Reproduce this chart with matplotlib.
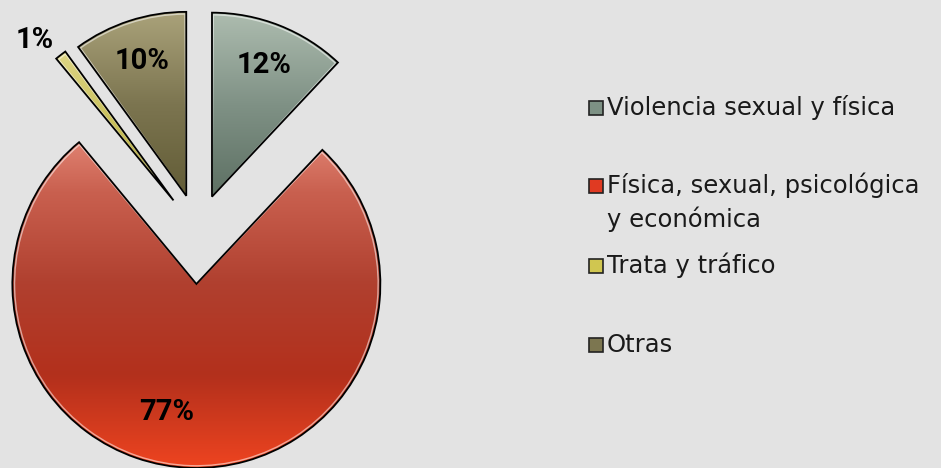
import numpy as np
import matplotlib
matplotlib.use("Agg")
import matplotlib.pyplot as plt
from matplotlib.colors import LinearSegmentedColormap
from matplotlib.patches import Rectangle, Wedge

categories = ["Violencia sexual y física",
              "Física, sexual, psicológica\ny económica",
              "Trata y tráfico",
              "Otras"]
values = [12, 77, 1, 10]
labels_pct = ["12%", "77%", "1%", "10%"]

# gradient colours (top -> bottom) per slice
grads = [
    ["#adbcaf", "#7f9185", "#5d7063"],
    ["#f29c8c", "#c9604f", "#b0402f", "#b3301c", "#ee4420"],
    ["#ddd585", "#c9c05a", "#b2a840"],
    ["#aaa27a", "#7c7550", "#625c36"],
]
legend_colors = ["#7d9184", "#e03a22", "#d0c650", "#7c7650"]

W, H = 941, 468
fig = plt.figure(figsize=(W / 100, H / 100), dpi=100)
fig.patch.set_facecolor("#e3e3e3")
ax = fig.add_axes([0, 0, 1, 1])
ax.set_facecolor("#e3e3e3")

R = 184
center = (198, 236)
explode = [38, 52, 40, 38]

wedges, texts = ax.pie(values, startangle=90, counterclock=False,
                       radius=R, center=center, explode=explode,
                       wedgeprops=dict(edgecolor="black", linewidth=1.3),
                       labels=None)

for w, cols in zip(wedges, grads):
    bb = w.get_path().get_extents()
    cmap = LinearSegmentedColormap.from_list("g", cols)
    grad = np.linspace(0, 1, 256).reshape(-1, 1)
    if len(cols) == 5:
        cx, cy = w.center
        ext = (cx - R, cx + R, cy - R, cy + R)
    else:
        ext = (bb.x0, bb.x1, bb.y0, bb.y1)
    im = ax.imshow(grad, cmap=cmap, extent=ext, origin="upper",
                   aspect="auto", zorder=1, interpolation="bilinear")
    im.set_clip_path(w)
    w.set_facecolor("none")
    w.set_zorder(3)
    inner = Wedge(w.center, w.r - 2.2, w.theta1 + 0.4, w.theta2 - 0.4,
                  facecolor="none", edgecolor="white", linewidth=1.0,
                  alpha=0.55, zorder=2)
    inner.set_clip_path(w)
    ax.add_patch(inner)

# percentage labels
pfont = dict(family="Roboto", fontweight="bold", fontsize=21, color="black",
             ha="center", va="center", zorder=5)
for i, (w, lab) in enumerate(zip(wedges, labels_pct)):
    mid = np.deg2rad((w.theta1 + w.theta2) / 2)
    cx, cy = w.center
    d = 0.77 * R
    x, y = cx + d * np.cos(mid), cy + d * np.sin(mid)
    if i == 1:
        x, y = 167, 56
    if i == 2:
        x, y = 35, 428
    ax.text(x, y, lab, **pfont)

# legend (manual)
lx = 589
ybase = [353, 275, 195, 116]
for col, cat, yb in zip(legend_colors, categories, ybase):
    ax.add_patch(Rectangle((lx, yb), 14, 14, facecolor=col,
                           edgecolor="#222222", linewidth=1.2, zorder=4))
    for k, line in enumerate(cat.split("\n")):
        ax.text(lx + 18, yb - 34 * k, line, family="DejaVu Sans",
                fontsize=17.5, color="#1a1a1a", ha="left",
                va="baseline", zorder=5)

ax.set_xlim(0, W)
ax.set_ylim(0, H)
ax.set_aspect("equal")
ax.axis("off")
fig.savefig("out.png", dpi=100, facecolor=fig.get_facecolor())
